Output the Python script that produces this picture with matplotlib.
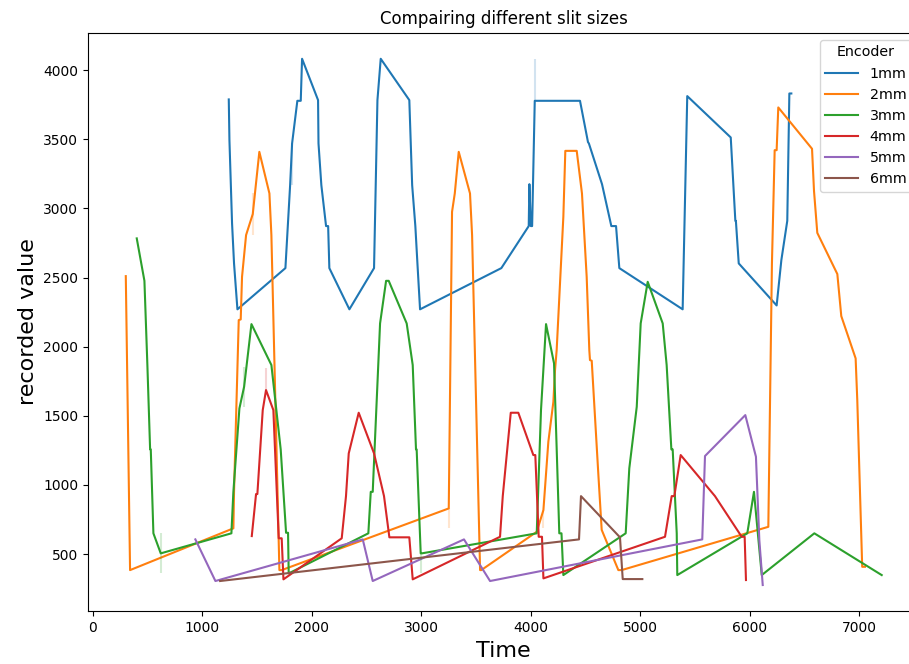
import matplotlib
matplotlib.use("Agg")
import matplotlib.pyplot as plt

# ---- data ----
encoders = ["1mm", "2mm", "3mm", "4mm", "5mm", "6mm"]

t_1mm = [1243, 1249, 1273, 1291, 1322, 1760, 1803, 1821, 1869, 1900, 1912, 2058, 2062, 2088,
         2131, 2150, 2161, 2344, 2569, 2600, 2630, 2891, 2904, 2917, 2946, 2965, 2989, 3731,
         3981, 3987, 4000, 4012, 4036, 4449, 4522, 4530, 4650, 4735, 4778, 4808, 5386, 5428,
         5825, 5867, 5872, 5898, 6244, 6287, 6341, 6360, 6378]
v_1mm = [3788, 3494, 2891, 2602, 2270, 2568, 3168, 3470, 3778, 3778, 4082, 3783, 3470, 3168,
         2872, 2872, 2568, 2270, 2568, 3783, 4082, 3783, 3474, 3168, 2872, 2602, 2270, 2568,
         2872, 3175, 2872, 2872, 3778, 3778, 3479, 3470, 3175, 2872, 2872, 2568, 2270, 3812,
         3513, 2910, 2910, 2602, 2298, 2626, 2910, 3831, 3831]

t_2mm = [303, 342, 1285, 1291, 1334, 1352, 1364, 1401, 1462, 1522, 1614, 1632, 1705, 1726,
         3251, 3281, 3306, 3342, 3445, 3464, 3537, 3548, 4054, 4115, 4160, 4206, 4221, 4236,
         4297, 4315, 4419, 4467, 4510, 4534, 4540, 4556, 4616, 4647, 4799, 4829, 6168, 6201,
         6226, 6244, 6259, 6567, 6585, 6615, 6798, 6834, 6965, 6980, 7025, 7050]
v_2mm = [2510, 384, 686, 950, 2192, 2197, 2505, 2807, 2959, 3409, 3108, 2807, 384, 384,
         830, 2975, 3108, 3409, 3108, 2807, 384, 384, 661, 818, 1312, 1601, 1830, 1975,
         2939, 3416, 3416, 3108, 2505, 1975, 1903, 1898, 1083, 675, 384, 384, 697, 2602,
         3421, 3421, 3730, 3431, 3127, 2823, 2525, 2221, 1915, 1614, 408, 408]

t_3mm = [403, 473, 500, 525, 531, 555, 622, 1267, 1285, 1340, 1383, 1450, 1632, 1717, 1766,
         1784, 1790, 2517, 2539, 2557, 2624, 2679, 2703, 2867, 2922, 2952, 2958, 2995, 3005,
         4054, 4093, 4139, 4212, 4260, 4280, 4297, 4866, 4899, 4967, 5003, 5067, 5204, 5240,
         5283, 5295, 5332, 5337, 5976, 6037, 6108, 6588, 7203]
v_3mm = [2783, 2476, 1867, 1257, 1257, 650, 505, 650, 950, 1553, 1710, 2163, 1867, 1257, 654,
         654, 360, 650, 950, 950, 2168, 2476, 2476, 2168, 1867, 1257, 1257, 505, 505,
         650, 1541, 2163, 1879, 650, 650, 348, 650, 1120, 1565, 2168, 2469, 2168, 1867,
         1257, 1257, 650, 348, 650, 950, 348, 650, 348]

t_4mm = [1453, 1492, 1504, 1553, 1583, 1650, 1699, 1726, 1742, 2274, 2313, 2338, 2429, 2569,
         2660, 2709, 2891, 2922, 3719, 3744, 3817, 3886, 4023, 4041, 4072, 4102, 4115, 5225,
         5286, 5310, 5368, 5681, 5925, 5952, 5964]
v_4mm = [630, 934, 934, 1541, 1686, 1541, 614, 614, 317, 614, 919, 1228, 1522, 1228,
         919, 621, 621, 317, 625, 919, 1522, 1522, 1216, 1216, 625, 625, 324, 625,
         919, 919, 1216, 919, 625, 625, 312]

t_5mm = [938, 1121, 2466, 2557, 3390, 3628, 5565, 5590, 5958, 6055, 6086, 6117]
v_5mm = [606, 305, 606, 305, 606, 305, 606, 1209, 1505, 1204, 601, 276]

t_6mm = [1164, 4440, 4458, 4814, 4839, 5018]
v_6mm = [305, 606, 919, 621, 319, 319]

# faint confidence-interval slivers (encoder index, time, low, high)
ci_enc = [0, 0, 1, 1, 1, 2, 2, 2, 3]
ci_t = [1821, 4036, 1462, 3251, 4115, 622, 1383, 2995, 1583]
ci_lo = [3168, 3778, 2807, 686, 686, 360, 1565, 360, 1686]
ci_hi = [3470, 4082, 3108, 830, 818, 650, 1854, 505, 1843]

series_t = [t_1mm, t_2mm, t_3mm, t_4mm, t_5mm, t_6mm]
series_v = [v_1mm, v_2mm, v_3mm, v_4mm, v_5mm, v_6mm]
colors = ["#1f77b4", "#ff7f0e", "#2ca02c", "#d62728", "#9467bd", "#8c564b"]

# ---- figure ----
W, H = 909, 664
fig = plt.figure(figsize=(W / 100, H / 100), dpi=100)
ax = fig.add_axes([88 / W, (H - 611.3) / H, 831.5 / W, (611.3 - 32.5) / H])

for name, t, v, c in zip(encoders, series_t, series_v, colors):
    ax.plot(t, v, color=c, lw=1.5, label=name)

for e, t, lo, hi in zip(ci_enc, ci_t, ci_lo, ci_hi):
    ax.vlines(t, lo, hi, color=colors[e], alpha=0.2, lw=1.5)

ax.set_xlim(-42, 7548)
ax.set_ylim(86, 4272)
ax.set_xticks([0, 1000, 2000, 3000, 4000, 5000, 6000, 7000])
ax.set_yticks([500, 1000, 1500, 2000, 2500, 3000, 3500, 4000])
ax.tick_params(labelsize=10)

ax.set_title("Compairing different slit sizes", fontsize=12)
ax.set_xlabel("Time", fontsize=16)
ax.set_ylabel("recorded value", fontsize=16)

ax.legend(title="Encoder", loc="upper right", fontsize=10.3, title_fontsize=10.3,
          handlelength=2.3)

fig.savefig("out.png", dpi=100)
